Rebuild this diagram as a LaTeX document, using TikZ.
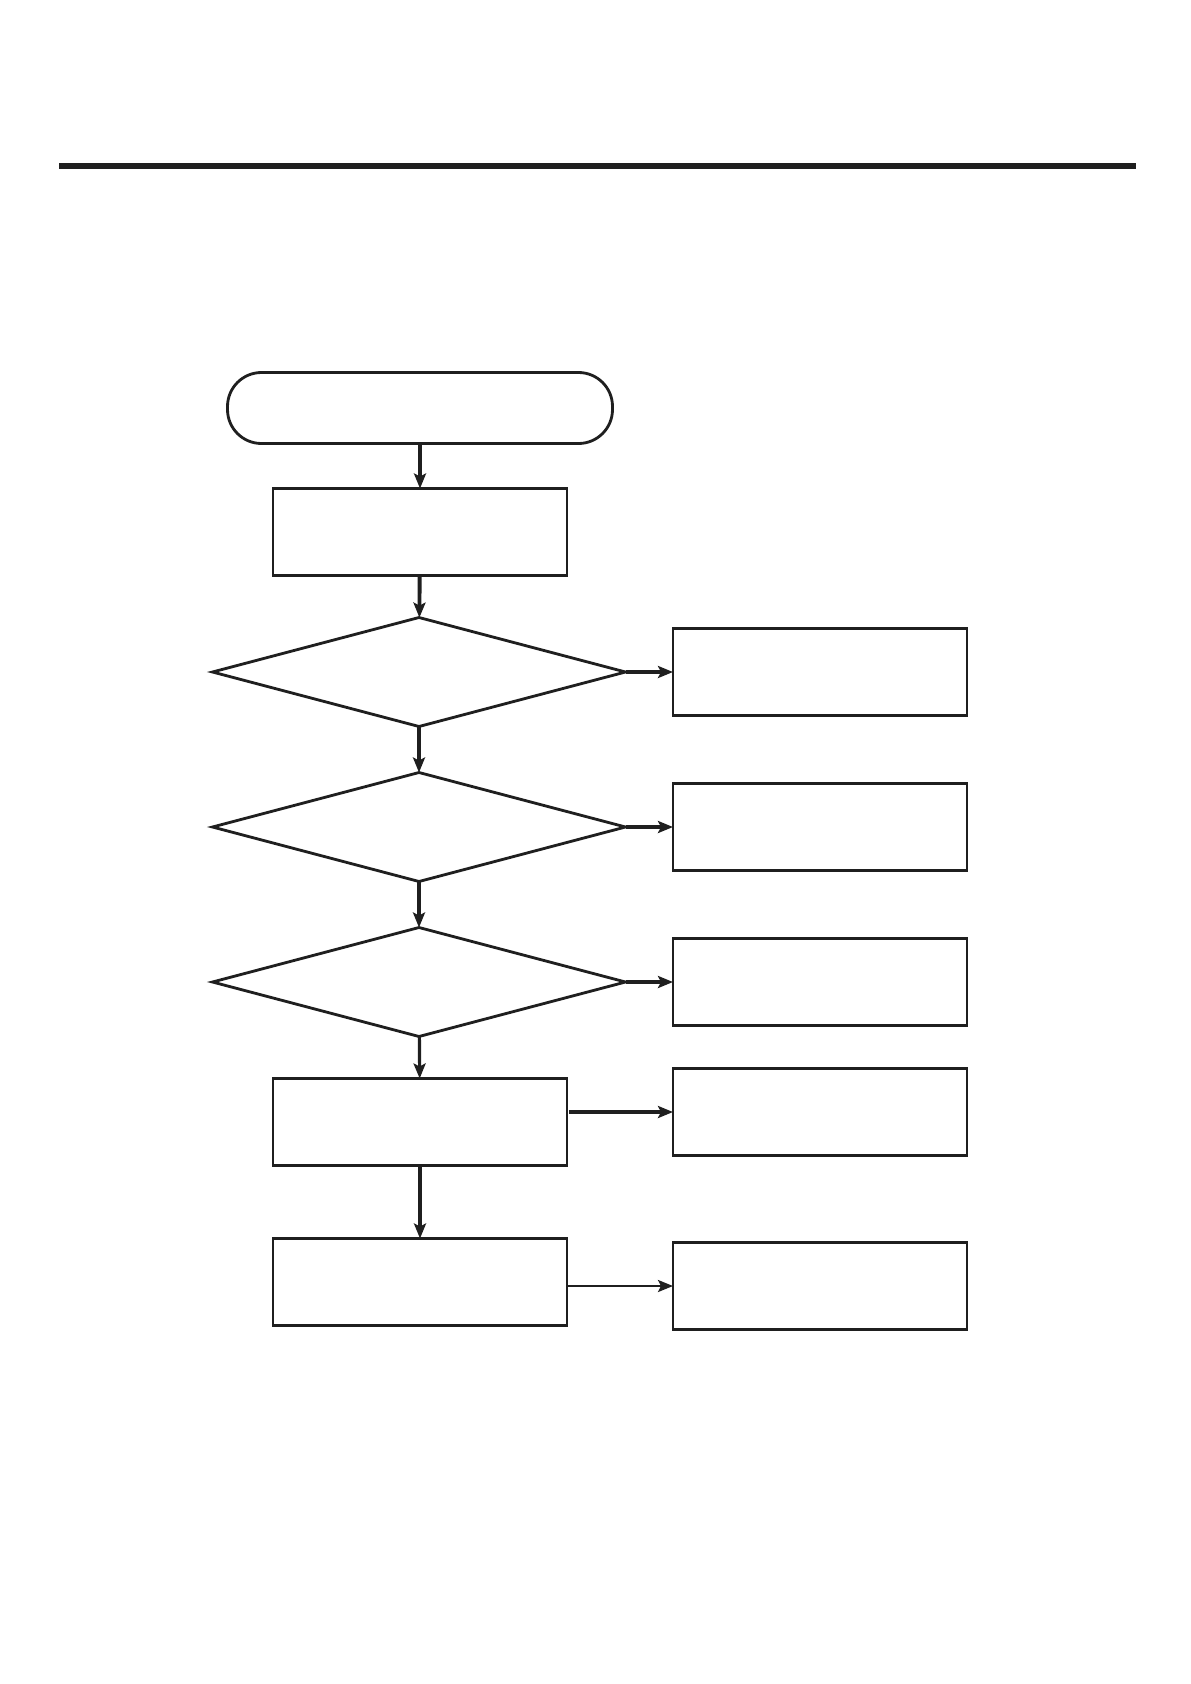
\documentclass[tikz,border=0pt]{standalone}
\usepackage{tikz}
\usetikzlibrary{arrows.meta,shapes.geometric}

\begin{document}
\begin{tikzpicture}[x=0.1mm,y=-0.1mm,>={Stealth[length=1.5mm,width=1.2mm,inset=0.3mm]},line width=0.8pt,color=black!88]
\tikzstyle{box}=[draw,rectangle,inner sep=0pt,outer sep=0pt,minimum width=29.4mm,minimum height=8.7mm]
\tikzstyle{dec}=[draw,diamond,inner sep=0pt,outer sep=0pt,minimum width=41.3mm,minimum height=10.9mm]
\tikzstyle{term}=[draw,rectangle,rounded corners=3.4mm,inner sep=0pt,outer sep=0pt,minimum width=38.5mm,minimum height=7.1mm]
\tikzstyle{link}=[->,line width=0.9pt]
\useasboundingbox (0,0) rectangle (1191,1684);
% header rule
\fill (59,163) rectangle (1136,169);
% main column
\node[term] (start) at (420,408) {};
\node[box] (init) at (420,532) {};
\node[dec] (q1) at (419,672) {};
\node[dec] (q2) at (419,827) {};
\node[dec] (q3) at (419,982) {};
\node[box] (act) at (420,1122) {};
\node[box] (fin) at (420,1282) {};
% right column
\node[box] (r1) at (820,672) {};
\node[box] (r2) at (820,827) {};
\node[box] (r3) at (820,982) {};
\node[box] (r4) at (820,1112) {};
\node[box] (r5) at (820,1286) {};
\draw[link] (start) -- (init);
\draw[link,line width=1.1pt] (init) -- (q1);
\draw[link] (q1) -- (q2);
\draw[link] (q2) -- (q3);
\draw[link] (q3) -- (act);
\draw[link,line width=1.3pt] (act) -- (fin);
\foreach \i in {1,2,3} \draw[link,line width=1.2pt] (q\i.east) -- (r\i.west);
\draw[link,line width=1.2pt] (act.east |- r4.west) ++(2,0) -- (r4.west);
\draw[link,line width=0.7pt] (fin.east |- r5.west) -- (r5.west);
\end{tikzpicture}
\end{document}
